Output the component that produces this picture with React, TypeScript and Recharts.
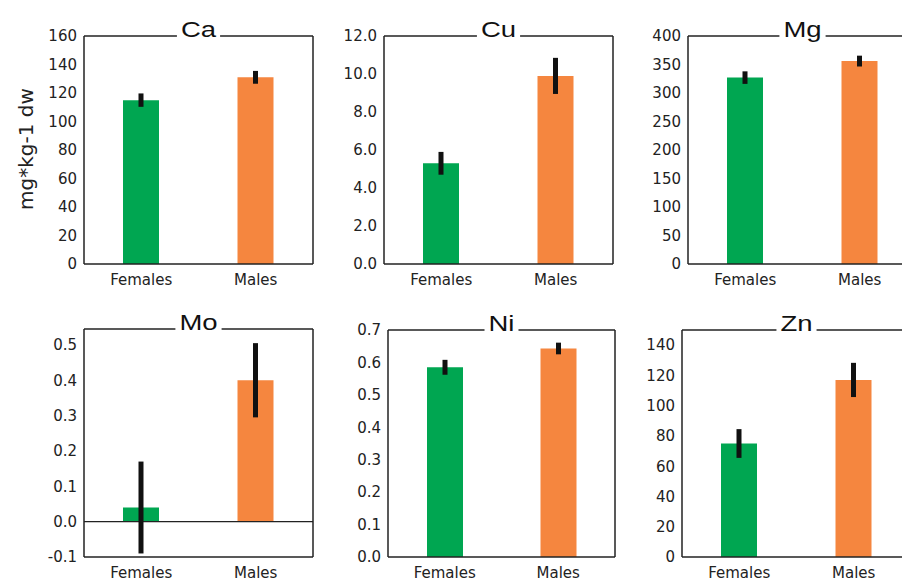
import { Bar, BarChart, CartesianGrid, Cell, ErrorBar, Label, ReferenceLine, XAxis, YAxis } from 'recharts';

const sexes = ['Females', 'Males'];

const caMeans = [115, 131];
const caErrors = [4.7, 4.5];
const caTicks = [0, 20, 40, 60, 80, 100, 120, 140, 160];

const cuMeans = [5.3, 9.9];
const cuErrors = [0.6, 0.95];
const cuTicks = [0, 2, 4, 6, 8, 10, 12];

const mgMeans = [327, 356];
const mgErrors = [11, 9.5];
const mgTicks = [0, 50, 100, 150, 200, 250, 300, 350, 400];

const moMeans = [0.04, 0.4];
const moErrors = [0.13, 0.105];
const moTicks = [-0.1, 0, 0.1, 0.2, 0.3, 0.4, 0.5];

const niMeans = [0.585, 0.643];
const niErrors = [0.023, 0.018];
const niTicks = [0, 0.1, 0.2, 0.3, 0.4, 0.5, 0.6, 0.7];

const znMeans = [75, 117];
const znErrors = [9.5, 11.3];
const znTicks = [0, 20, 40, 60, 80, 100, 120, 140];

const barColors = ['#00a651', '#f5863f'];
const font = '"DejaVu Sans", sans-serif';
const titleFont = '"Liberation Sans", Arial, sans-serif';
const ink = '#222';

// rough Arial glyph widths (em) for the title gap
const glyphWidths: Record<string, number> = {
    C: 0.722, a: 0.556, u: 0.556, M: 0.833, g: 0.556, o: 0.556, N: 0.722, i: 0.222, Z: 0.611, n: 0.556,
};
const titleSize = 22;
const titleStretch = 1.25;

function titleWidth(text: string) {
    return text.split('').reduce((sum, ch) => sum + (glyphWidths[ch] ?? 0.6), 0) * titleSize * titleStretch;
}

interface PanelSpec {
    title: string;
    means: number[];
    errors: number[];
    ticks: number[];
    domain: [number, number];
    digits: number;
    box: { x: number; y: number; w: number; h: number };
    yLabel?: string;
    zeroLine?: boolean;
}

const panels: PanelSpec[] = [
    { title: 'Ca', means: caMeans, errors: caErrors, ticks: caTicks, domain: [0, 160], digits: 0, box: { x: 84, y: 36, w: 229, h: 228 }, yLabel: 'mg*kg-1 dw' },
    { title: 'Cu', means: cuMeans, errors: cuErrors, ticks: cuTicks, domain: [0, 12], digits: 1, box: { x: 384, y: 36, w: 229, h: 228 } },
    { title: 'Mg', means: mgMeans, errors: mgErrors, ticks: mgTicks, domain: [0, 400], digits: 0, box: { x: 688, y: 36, w: 229, h: 228 } },
    { title: 'Mo', means: moMeans, errors: moErrors, ticks: moTicks, domain: [-0.1, 0.545], digits: 1, box: { x: 84, y: 329, w: 229, h: 228 }, zeroLine: true },
    { title: 'Ni', means: niMeans, errors: niErrors, ticks: niTicks, domain: [0, 0.7], digits: 1, box: { x: 388, y: 330, w: 227, h: 227 } },
    { title: 'Zn', means: znMeans, errors: znErrors, ticks: znTicks, domain: [0, 150], digits: 0, box: { x: 682, y: 330, w: 229, h: 227 } },
];

const LEFT = 72;
const TOP = 45;
const BOTTOM = 30;

function TitleLabel(props: any) {
    const { viewBox, text } = props;
    if (!viewBox) return null;
    const cx = viewBox.x + viewBox.width / 2;
    const y = viewBox.y;
    const gap = titleWidth(text) + 8;
    return (
        <g>
            <rect x={cx - gap / 2} y={y - 26} width={gap} height={29} fill="#fff" />
            <text
                x={cx}
                y={y + 1}
                textAnchor="middle"
                fontFamily={titleFont}
                fontSize={titleSize}
                fill="#111"
                transform={`translate(${cx} 0) scale(${titleStretch} 1) translate(${-cx} 0)`}
            >
                {text}
            </text>
        </g>
    );
}

function AxisTitle(props: any) {
    const { viewBox, text } = props;
    if (!viewBox) return null;
    const x = viewBox.x + 14;
    const y = viewBox.y + viewBox.height / 2 - 1;
    return (
        <text x={x} y={y} textAnchor="middle" dominantBaseline="central" fontFamily={font} fontSize={20} fill={ink} transform={`rotate(-90 ${x} ${y})`}>
            {text}
        </text>
    );
}

// right edge of the frame, taken from the chart's own plot offset
function rightEdge(args: any) {
    const { offset, width } = args;
    if (offset && typeof offset.width === 'number') return [offset.left + offset.width];
    return [width - (offset?.right ?? 0)];
}

function Panel({ spec }: { spec: PanelSpec }) {
    const data = sexes.map((sex, i) => ({ sex, mean: spec.means[i], err: spec.errors[i] }));
    const { box } = spec;
    const width = box.w + LEFT + 2;
    const height = box.h + TOP + BOTTOM;

    return (
        <div style={{ position: 'absolute', left: box.x - LEFT, top: box.y - TOP }}>
            <BarChart width={width} height={height} data={data} margin={{ top: TOP, right: 2, bottom: 0, left: 0 }}>
                <CartesianGrid horizontal={false} verticalCoordinatesGenerator={rightEdge} stroke={ink} strokeWidth={1.5} />
                <XAxis
                    dataKey="sex"
                    height={BOTTOM}
                    axisLine={{ stroke: ink, strokeWidth: 1.5 }}
                    tickLine={false}
                    tickMargin={4}
                    tick={{ fontFamily: font, fontSize: 15, fill: ink }}
                />
                <YAxis
                    type="number"
                    width={LEFT}
                    domain={spec.domain}
                    ticks={spec.ticks}
                    allowDataOverflow
                    interval={0}
                    tickFormatter={(v: number) => v.toFixed(spec.digits)}
                    axisLine={{ stroke: ink, strokeWidth: 1.5 }}
                    tickLine={false}
                    tickMargin={1}
                    tick={{ fontFamily: font, fontSize: 15, fill: ink }}
                >
                    {spec.yLabel ? <Label content={(p: any) => <AxisTitle {...p} text={spec.yLabel} />} /> : null}
                </YAxis>
                {spec.zeroLine ? <ReferenceLine y={0} stroke={ink} strokeWidth={1.2} /> : null}
                <Bar dataKey="mean" barSize={36} isAnimationActive={false}>
                    {data.map((entry, i) => (
                        <Cell key={entry.sex} fill={barColors[i]} />
                    ))}
                    <ErrorBar dataKey="err" width={0} stroke="#111" strokeWidth={5} direction="y" isAnimationActive={false} />
                </Bar>
                <ReferenceLine y={spec.domain[1]} stroke={ink} strokeWidth={1.5}>
                    <Label content={(p: any) => <TitleLabel {...p} text={spec.title} />} />
                </ReferenceLine>
            </BarChart>
        </div>
    );
}

export default function App() {
    return (
        <div style={{ position: 'absolute', left: 0, top: 0, width: 902, height: 581, overflow: 'hidden', background: '#fff' }}>
            {panels.map((spec) => (
                <Panel key={spec.title} spec={spec} />
            ))}
        </div>
    );
}
